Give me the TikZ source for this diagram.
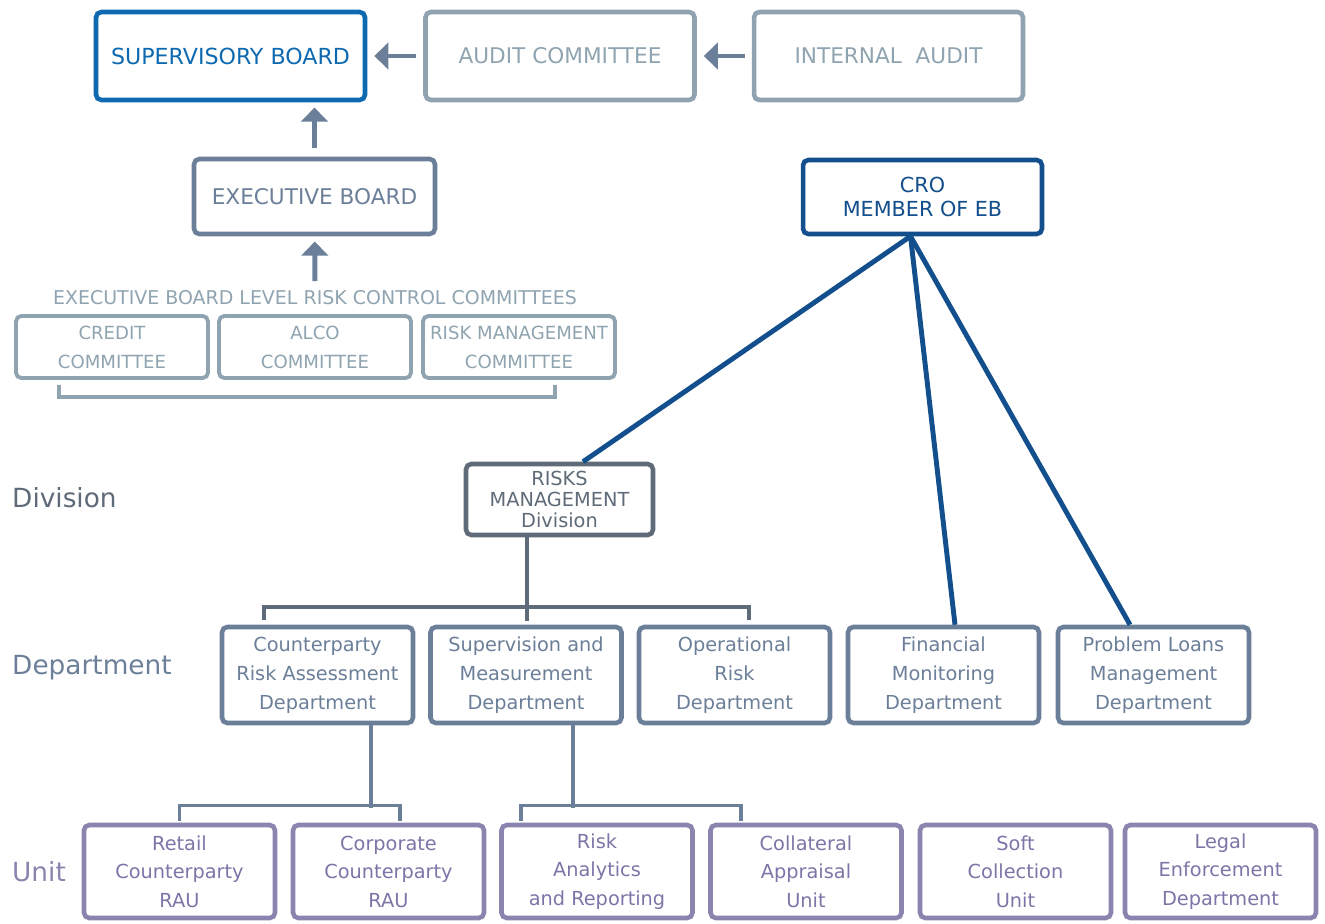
\documentclass[tikz,border=0pt]{standalone}
\usepackage{fontspec}
\setmainfont{DejaVu Sans}
\usepackage{xcolor}
\usetikzlibrary{arrows.meta, positioning, calc}
\definecolor{boardblue}{HTML}{0E6AB0}
\definecolor{audgray}{HTML}{8FA4B0}
\definecolor{slate}{HTML}{6C7F99}
\definecolor{crodark}{HTML}{134F8C}
\definecolor{divgray}{HTML}{5F6B78}
\definecolor{unitpurple}{HTML}{8A84AE}
\definecolor{unittext}{HTML}{7C76A8}

\begin{document}
\begin{tikzpicture}[x=0.02cm, y=-0.02cm,
  box/.style={draw, rounded corners=3pt, line width=2.6pt, align=center,
              inner sep=0pt, fill=white},
  topbox/.style={box, minimum width=5.38cm, minimum height=1.76cm,
                 font=\fontsize{12.6}{14}\selectfont},
  combox/.style={box, draw=audgray, text=audgray, line width=2.2pt,
                 minimum width=3.84cm, minimum height=1.24cm,
                 font=\fontsize{10.3}{16.4}\selectfont},
  deptbox/.style={box, draw=slate, text=slate, minimum width=3.82cm,
                  minimum height=1.92cm, font=\fontsize{11}{16.6}\selectfont},
  unitbox/.style={box, draw=unitpurple, text=unittext, minimum width=3.82cm,
                  minimum height=1.86cm, font=\fontsize{11}{16.2}\selectfont},
  lvl/.style={anchor=west, font=\fontsize{15}{17}\selectfont},
  arr/.style={-{Triangle[width=15pt, length=8pt]}, line width=2.8pt, slate},
  croline/.style={line width=2.8pt, crodark},
  divline/.style={line width=2.2pt, divgray},
  deptline/.style={line width=2pt, slate},
  brk/.style={line width=2pt, audgray},
]
  \useasboundingbox (0,0) rectangle (1325,923);

  % boards
  \node[topbox, draw=boardblue, text=boardblue] (sb) at (230.5,56) {SUPERVISORY BOARD};
  \node[topbox, draw=audgray, text=audgray, font=\fontsize{12.3}{14}\selectfont] (ac) at (560,56) {AUDIT COMMITTEE};
  \node[topbox, draw=audgray, text=audgray, font=\fontsize{12.3}{14}\selectfont] (ia) at (888.5,56) {INTERNAL\ \ AUDIT};
  \node[topbox, draw=slate, text=slate, minimum width=4.82cm,
        minimum height=1.5cm, font=\fontsize{12.3}{14}\selectfont] (eb) at (314.5,196.5) {EXECUTIVE BOARD};
  \node[topbox, draw=crodark, text=crodark, minimum width=4.78cm,
        minimum height=1.48cm, font=\fontsize{11.8}{13.6}\selectfont] (cro) at (922.5,197) {CRO\\MEMBER OF EB};

  % committees
  \node[text=audgray, font=\fontsize{10.8}{12}\selectfont] (cl) at (315,298) {EXECUTIVE BOARD LEVEL RISK CONTROL COMMITTEES};
  \node[combox] (cc) at (112,347) {CREDIT\\COMMITTEE};
  \node[combox] (alco) at (315,347) {ALCO\\COMMITTEE};
  \node[combox] (rmc) at (519,347) {RISK MANAGEMENT\\COMMITTEE};
  \coordinate (bl) at (59,385);
  \coordinate (br) at (555,385);

  % division and departments
  \node[box, draw=divgray, text=divgray, minimum width=3.74cm, minimum height=1.42cm,
        font=\fontsize{11}{11.8}\selectfont] (rmd) at (559.5,499.5) {RISKS\\MANAGEMENT\\Division};
  \node[deptbox] (crad) at (317.5,675) {Counterparty\\Risk Assessment\\Department};
  \node[deptbox] (smd) at (526,675) {Supervision and\\Measurement\\Department};
  \node[deptbox] (ord) at (734.5,675) {Operational\\Risk\\Department};
  \node[deptbox] (fmd) at (943.5,675) {Financial\\Monitoring\\Department};
  \node[deptbox] (plmd) at (1153.5,675) {Problem Loans\\Management\\Department};

  % units
  \node[unitbox] (rcr) at (179.5,871.5) {Retail\\Counterparty\\RAU};
  \node[unitbox] (ccr) at (388.5,871.5) {Corporate\\Counterparty\\RAU};
  \node[unitbox] (rar) at (597,871.5) {Risk\\Analytics\\and Reporting};
  \node[unitbox] (cau) at (806,871.5) {Collateral\\Appraisal\\Unit};
  \node[unitbox] (scu) at (1015.5,871.5) {Soft\\Collection\\Unit};
  \node[unitbox] (led) at (1220.5,871.5) {Legal\\Enforcement\\Department};

  % level labels
  \node[lvl, text=divgray] (ldiv) at (6,498) {Division};
  \node[lvl, text=slate] (ldep) at (6,668) {Department};
  \node[lvl, text=unitpurple] (lunit) at (6,872) {Unit};

  % arrows
  \draw[arr, shorten <=4pt, shorten >=4pt] (ac) -- (sb);
  \draw[arr, shorten <=4pt, shorten >=4pt] (ia) -- (ac);
  \draw[arr, shorten <=5pt, shorten >=3pt] (eb.north) -- (eb.north |- sb.south);
  \draw[arr, shorten <=2pt, shorten >=3pt] (cl) -- (eb);
  \draw[brk] (bl) -- ++(0,12) -| (br);

  % CRO lines
  \draw[croline] ([xshift=-0.24cm]cro.south) -- ([xshift=0.47cm]rmd.north);
  \draw[croline] ([xshift=-0.24cm]cro.south) -- ([xshift=0.23cm]fmd.north);
  \draw[croline] ([xshift=-0.24cm]cro.south) -- ([xshift=-0.47cm]plmd.north);

  % division tree
  \draw[divline] ([xshift=-0.65cm]rmd.south) -- ++(0,70) coordinate (bus);
  \draw[divline] (bus) -- ++(0,14);
  \draw[divline] ([xshift=-1.07cm, yshift=0.1cm]crad.north) -- ++(0,-13) -| ([xshift=0.29cm, yshift=0.1cm]ord.north);

  % unit trees
  \draw[deptline] ([xshift=1.07cm]crad.south) -- ++(0,83) coordinate (bus2);
  \draw[deptline] ([yshift=0.04cm]rcr.north) -- ++(0,-15) -| ([xshift=0.23cm, yshift=0.04cm]ccr.north);
  \draw[deptline] ([xshift=0.94cm]smd.south) -- ++(0,83) coordinate (bus3);
  \draw[deptline] ([xshift=-1.52cm, yshift=0.04cm]rar.north) -- ++(0,-15) -| ([xshift=-1.3cm, yshift=0.04cm]cau.north);
\end{tikzpicture}
\end{document}
